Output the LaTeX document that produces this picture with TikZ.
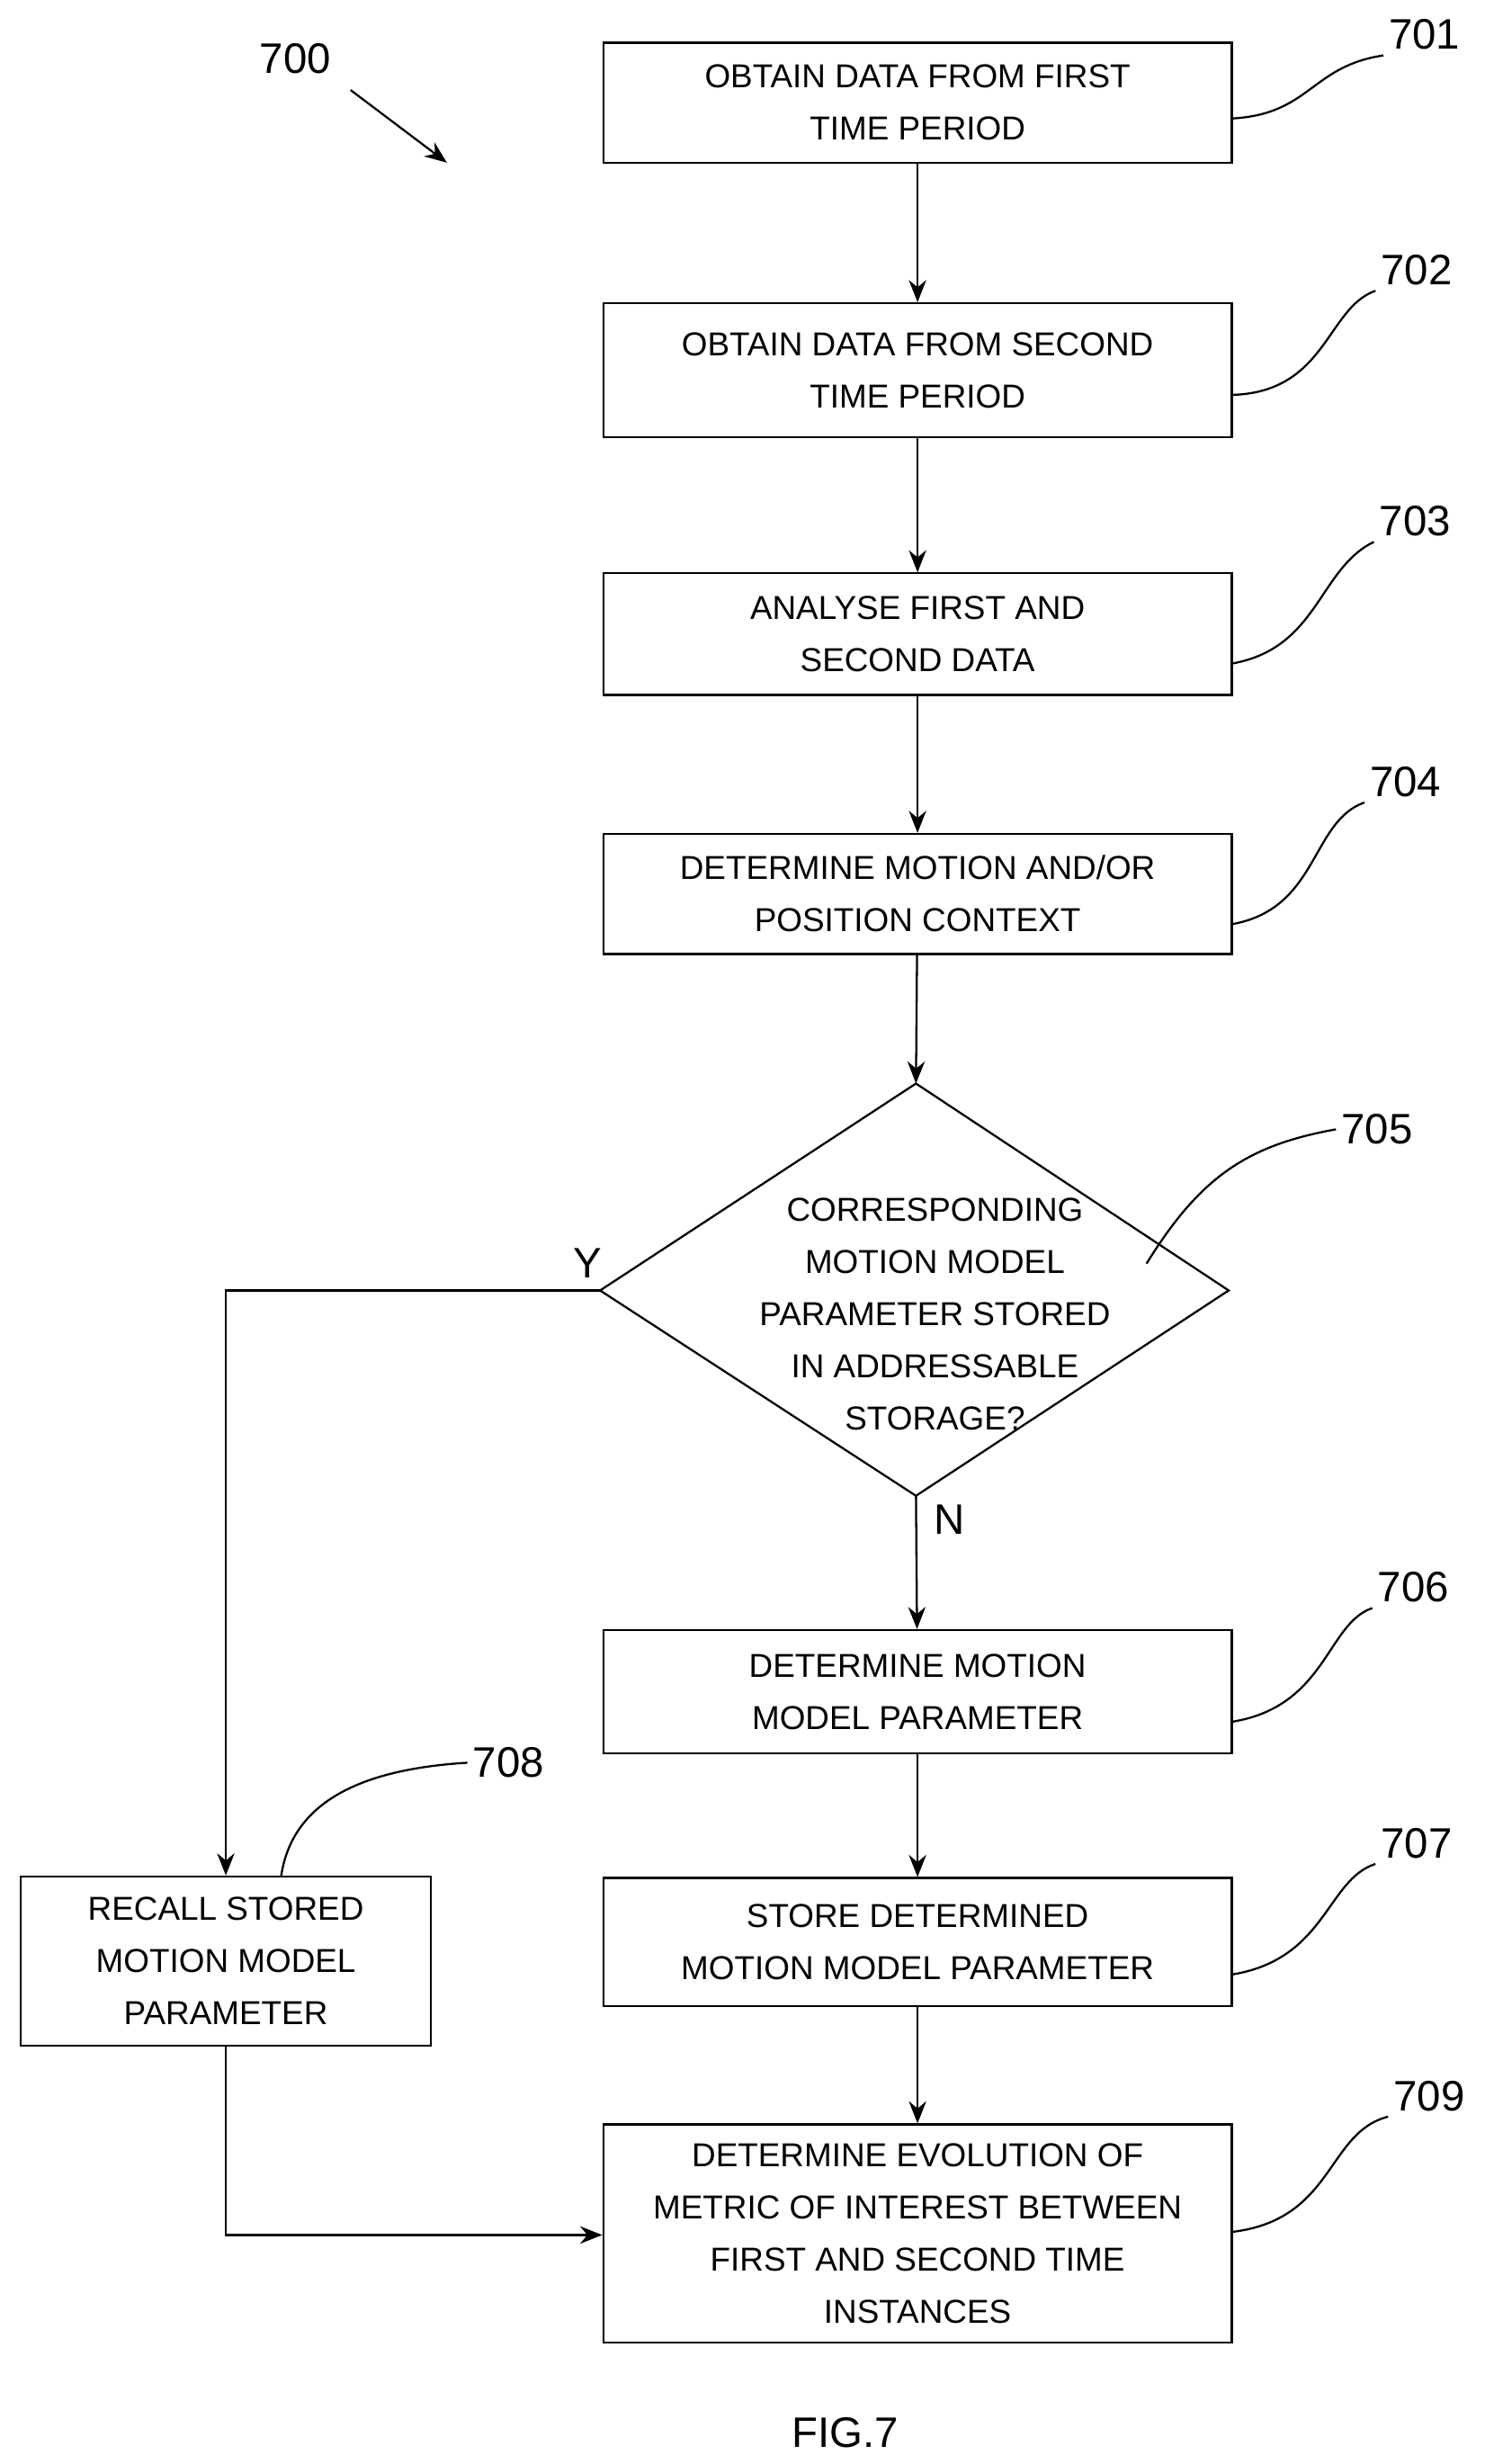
\documentclass[tikz,border=0pt]{standalone}
\usepackage{fontspec}
\setmainfont{Liberation Sans}
\usetikzlibrary{arrows.meta,shapes.geometric}
\begin{document}
\begin{tikzpicture}[x=1pt,y=-1pt,
  box/.style={draw,line width=1.3pt,align=center,inner sep=0pt,font=\fontsize{21}{33}\selectfont},
  arr/.style={line width=1.3pt,-{Stealth[length=14pt,width=11pt]}},
  ln/.style={line width=1.3pt},
  lab/.style={font=\fontsize{27}{30}\selectfont}]
\useasboundingbox (0,0) rectangle (940,1560);
\node[box,minimum width=398pt,minimum height=76pt] (b1) at (581,65) {OBTAIN DATA FROM FIRST\\TIME PERIOD};
\node[box,minimum width=398pt,minimum height=85pt] (b2) at (581,234.5) {OBTAIN DATA FROM SECOND\\TIME PERIOD};
\node[box,minimum width=398pt,minimum height=77pt] (b3) at (581,401.5) {ANALYSE FIRST AND\\SECOND DATA};
\node[box,minimum width=398pt,minimum height=76pt] (b4) at (581,566) {DETERMINE MOTION AND/OR\\POSITION CONTEXT};
\coordinate (dt) at (580,686); \coordinate (dl) at (380,817);
\coordinate (dr) at (778,817); \coordinate (db) at (580,947);
\draw[ln] (dt) -- (dr) -- (db) -- (dl) -- cycle;
\node[align=center,font=\fontsize{21}{33}\selectfont] (dtext) at (592,832) {CORRESPONDING\\MOTION MODEL\\PARAMETER STORED\\IN ADDRESSABLE\\STORAGE?};
\node[box,minimum width=398pt,minimum height=78pt] (b6) at (581,1071) {DETERMINE MOTION\\MODEL PARAMETER};
\node[box,minimum width=398pt,minimum height=81pt] (b7) at (581,1229.5) {STORE DETERMINED\\MOTION MODEL PARAMETER};
\node[box,minimum width=398pt,minimum height=138pt] (b9) at (581,1414) {DETERMINE EVOLUTION OF\\METRIC OF INTEREST BETWEEN\\FIRST AND SECOND TIME\\INSTANCES};
\node[box,minimum width=260pt,minimum height=107pt] (b8) at (143,1241.5) {RECALL STORED\\MOTION MODEL\\PARAMETER};
\draw[arr] (b1) -- (b2);
\draw[arr] (b2) -- (b3);
\draw[arr] (b3) -- (b4);
\draw[arr] (b4) -- (dt);
\draw[arr] (db) -- (b6);
\draw[arr] (b6) -- (b7);
\draw[arr] (b7) -- (b9);
\draw[arr] (dl) -| (b8.north);
\draw[arr] (b8.south) |- (b9.west |- 0,1415);
\node[lab] (y) at (372,800) {Y};
\node[lab] (n) at (601,962) {N};
\node[lab] (l700) at (187,37) {700};
\coordinate (a700s) at (222,57); \coordinate (a700e) at (283,103);
\draw[arr] (a700s) -- (a700e);
\node[lab] (l701) at (902,22) {701};
\node[lab] (l702) at (897,171) {702};
\node[lab] (l703) at (896,330) {703};
\node[lab] (l704) at (890,495) {704};
\node[lab] (l705) at (872,715) {705};
\node[lab] (l706) at (895,1005) {706};
\node[lab] (l707) at (897,1167) {707};
\node[lab] (l709) at (905,1327) {709};
\node[lab] (l708) at (322,1116) {708};
\draw[ln] (b1.east |- 0,75) .. controls (830,72) and (830,42) .. (l701.south west);
\draw[ln] (b2.east |- 0,250) .. controls (840,248) and (840,195) .. (l702.south west);
\draw[ln] (b3.east |- 0,420) .. controls (835,410) and (835,360) .. (l703.south west);
\draw[ln] (b4.east |- 0,585) .. controls (835,575) and (830,520) .. (l704.south west);
\draw[ln] (726,800) .. controls (760,745) and (790,725) .. (l705.west);
\draw[ln] (b6.east |- 0,1090) .. controls (840,1080) and (840,1028) .. (l706.south west);
\draw[ln] (b7.east |- 0,1250) .. controls (840,1240) and (840,1190) .. (l707.south west);
\draw[ln] (b9.east |- 0,1413) .. controls (845,1405) and (840,1350) .. (l709.south west);
\draw[ln] (178,1188) .. controls (185,1140) and (230,1120) .. (l708.west);
\node[lab] (fig) at (535,1540) {FIG.7};
\end{tikzpicture}
\end{document}
